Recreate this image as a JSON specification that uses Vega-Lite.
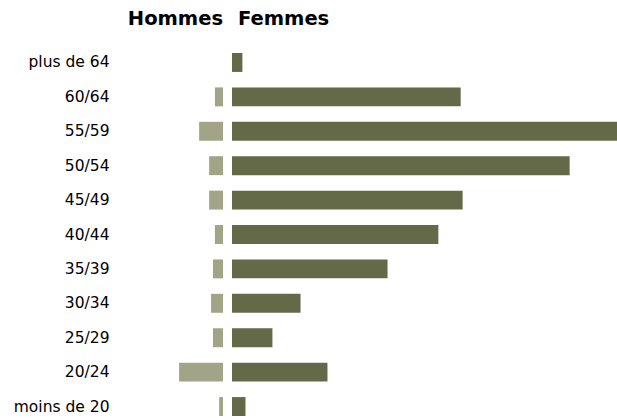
{
  "$schema": "https://vega.github.io/schema/vega-lite/v6.json",
  "padding": {"left": 13, "top": 8, "right": 0, "bottom": 0},
  "config": {"view": {"stroke": null}, "font": "DejaVu Sans"},
  "data": {"values": [
    {"age": "plus de 64", "sexe": "Hommes", "valeur": 0},
    {"age": "60/64", "sexe": "Hommes", "valeur": 2.1},
    {"age": "55/59", "sexe": "Hommes", "valeur": 6.2},
    {"age": "50/54", "sexe": "Hommes", "valeur": 3.6},
    {"age": "45/49", "sexe": "Hommes", "valeur": 3.6},
    {"age": "40/44", "sexe": "Hommes", "valeur": 2.1},
    {"age": "35/39", "sexe": "Hommes", "valeur": 2.6},
    {"age": "30/34", "sexe": "Hommes", "valeur": 3.1},
    {"age": "25/29", "sexe": "Hommes", "valeur": 2.6},
    {"age": "20/24", "sexe": "Hommes", "valeur": 11.4},
    {"age": "moins de 20", "sexe": "Hommes", "valeur": 1.0},
    {"age": "plus de 64", "sexe": "Femmes", "valeur": 2.7},
    {"age": "60/64", "sexe": "Femmes", "valeur": 59.4},
    {"age": "55/59", "sexe": "Femmes", "valeur": 100},
    {"age": "50/54", "sexe": "Femmes", "valeur": 87.7},
    {"age": "45/49", "sexe": "Femmes", "valeur": 59.9},
    {"age": "40/44", "sexe": "Femmes", "valeur": 53.6},
    {"age": "35/39", "sexe": "Femmes", "valeur": 40.4},
    {"age": "30/34", "sexe": "Femmes", "valeur": 17.8},
    {"age": "25/29", "sexe": "Femmes", "valeur": 10.5},
    {"age": "20/24", "sexe": "Femmes", "valeur": 24.8},
    {"age": "moins de 20", "sexe": "Femmes", "valeur": 3.5}
  ]},
  "spacing": 9,
  "hconcat": [
    {
      "width": 110,
      "height": 363,
      "title": {"text": "Hommes", "anchor": "end", "fontSize": 19.5, "fontWeight": "bold", "offset": 24, "color": "#000000"},
      "transform": [{"filter": "datum.sexe === 'Hommes'"}],
      "mark": {"type": "bar", "color": "#a1a486"},
      "encoding": {
        "y": {"field": "age", "type": "nominal", "sort": ["plus de 64", "60/64", "55/59", "50/54", "45/49", "40/44", "35/39", "30/34", "25/29", "20/24", "moins de 20"],
              "scale": {"paddingInner": 0.45, "paddingOuter": 0},
              "axis": {"title": null, "domain": false, "ticks": false, "labelPadding": 4, "labelFontSize": 15.5, "labelColor": "#000000", "labelFont": "DejaVu Sans", "minExtent": 100, "maxExtent": 100}},
        "x": {"field": "valeur", "type": "quantitative", "scale": {"domain": [0, 28.571], "reverse": true, "nice": false}, "axis": null}
      }
    },
    {
      "width": 385,
      "height": 363,
      "title": {"text": "Femmes", "anchor": "start", "fontSize": 19.5, "fontWeight": "bold", "offset": 24, "dx": 6, "color": "#000000"},
      "transform": [{"filter": "datum.sexe === 'Femmes'"}],
      "mark": {"type": "bar", "color": "#646a48"},
      "encoding": {
        "y": {"field": "age", "type": "nominal", "sort": ["plus de 64", "60/64", "55/59", "50/54", "45/49", "40/44", "35/39", "30/34", "25/29", "20/24", "moins de 20"],
              "scale": {"paddingInner": 0.45, "paddingOuter": 0},
              "axis": null},
        "x": {"field": "valeur", "type": "quantitative", "scale": {"domain": [0, 100], "nice": false}, "axis": null}
      }
    }
  ]
}
